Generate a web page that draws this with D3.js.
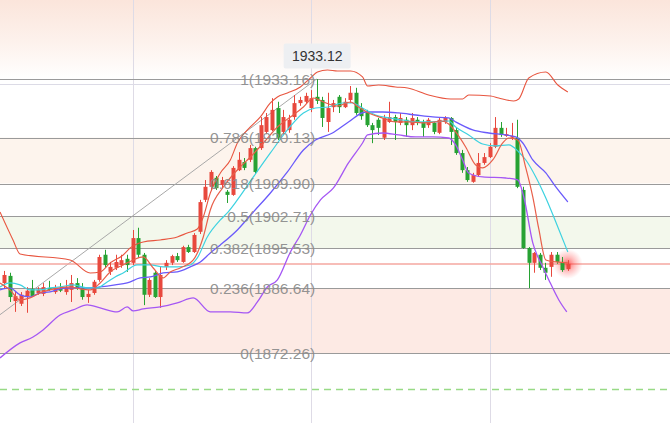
<!DOCTYPE html>
<html><head><meta charset="utf-8">
<script src="https://cdn.jsdelivr.net/npm/d3@7"></script>
<style>html,body{margin:0;padding:0;background:#fff;}svg{display:block;}</style>
</head><body>
<svg id="c" width="670" height="423"></svg>
<script>
// ---------- DATA ----------
const openP = [1887.8,1889.4,1883.8,1883.2,1884.9,1886.5,1885.6,1885.4,1886.7,1885.8,
1886.5,1885.8,1886.3,1887.8,1886.7,1884.7,1885.6,1888.5,1894.1,1890.3,
1891.2,1891.8,1893.2,1892.3,1897.8,1894.1,1885.2,1890.1,1884.7,1891.4,
1892.3,1893.8,1892.5,1895.8,1894.7,1899.2,1906.3,1909.2,1911.2,1909.6,
1908.1,1907.4,1912.9,1914.7,1915.2,1917.8,1917.8,1921.4,1921.8,1926.7,
1921.4,1921.8,1924.7,1927.8,1928.1,1926.7,1929.2,1928.5,1923.6,1926.9,
1929.2,1926.9,1928.5,1930.1,1926.7,1925.8,1922.9,1924.1,1920.1,1923.6,
1924.7,1923.4,1924.1,1922.9,1924.1,1923.6,1922.9,1923.4,1921.2,1923.6,
1924.5,1921.8,1916.7,1912.9,1910.3,1911.8,1914.5,1915.8,1918.1,1922.3,
1920.5,1920.1,1920.1,1908.5,1895.6,1892.3,1894.1,1891.2,1891.4,1894.1,
1892.5,1890.9];
const closeP = [1889.6,1884.7,1884.9,1885.2,1886.1,1884.9,1886.3,1886.9,1886.3,1886.7,
1886.1,1886.9,1887.8,1886.7,1884.7,1885.4,1888.1,1893.6,1891.8,1891.4,
1892.5,1892.9,1891.8,1897.8,1894.1,1885.2,1888.5,1884.7,1889.6,1892.3,
1893.8,1892.9,1895.8,1894.7,1898.5,1905.8,1909.2,1912.5,1908.9,1910.7,
1907.4,1913.4,1915.2,1913.4,1917.8,1912.5,1922.9,1924.7,1926.3,1920.1,
1924.7,1924.1,1927.8,1928.5,1929.4,1928.9,1928.3,1924.5,1926.7,1927.8,
1926.9,1928.1,1930.1,1925.6,1924.9,1922.9,1921.8,1922.3,1924.5,1924.7,
1923.6,1924.5,1922.9,1924.5,1923.4,1922.3,1924.1,1921.4,1924.1,1924.5,
1921.4,1916.7,1912.9,1910.7,1911.8,1914.5,1915.8,1918.1,1922.3,1920.7,
1920.9,1920.5,1909.2,1895.6,1892.3,1894.5,1891.2,1890.1,1894.1,1892.5,
1890.7,1892.05];
const highP = [1890.5,1890.1,1885.8,1885.8,1886.9,1888.5,1886.9,1887.8,1888.3,1887.4,
1887.8,1888.5,1889.6,1888.9,1887.8,1886.3,1888.5,1894.1,1895.2,1892.5,
1894.1,1894.1,1894.1,1899.6,1900.1,1894.5,1888.9,1890.5,1891.4,1892.9,
1894.1,1894.5,1896.1,1896.3,1898.9,1906.3,1910.7,1912.9,1911.6,1911.4,
1908.5,1913.8,1916.9,1915.6,1918.5,1918.1,1924.7,1925.6,1928.9,1928.1,
1926.3,1925.2,1929.6,1929.2,1930.1,1930.7,1933.16,1929.2,1930.1,1928.5,
1929.6,1928.9,1931.6,1931.2,1927.8,1926.3,1923.4,1924.5,1925.2,1928.1,
1925.2,1925.6,1924.7,1925.6,1924.7,1924.1,1924.5,1923.6,1924.5,1924.9,
1924.7,1922.3,1917.4,1913.6,1912.3,1916.7,1916.7,1918.9,1924.7,1923.6,
1922.3,1923.4,1924.1,1909.2,1895.8,1894.7,1894.5,1892.3,1894.7,1894.7,
1893.6,1892.9];
const lowP = [1886.7,1883.6,1881.4,1882.7,1881.2,1884.7,1885.2,1884.9,1886.1,1885.4,
1885.8,1885.2,1883.6,1886.3,1884.1,1883.4,1885.2,1888.1,1891.2,1889.6,
1890.7,1891.2,1890.3,1891.8,1893.4,1882.9,1884.7,1884.5,1882.3,1890.7,
1891.8,1892.5,1892.3,1894.5,1894.5,1898.7,1905.8,1908.5,1908.5,1908.9,
1905.6,1907.2,1912.7,1912.9,1914.7,1912.1,1917.4,1920.9,1921.6,1919.6,
1920.7,1921.2,1924.1,1927.2,1927.6,1925.8,1927.6,1922.5,1921.4,1925.8,
1925.6,1926.7,1927.8,1925.2,1924.1,1922.5,1918.9,1920.7,1919.6,1923.4,
1919.6,1922.9,1920.3,1921.8,1922.9,1920.3,1922.3,1920.9,1920.9,1923.2,
1918.5,1916.3,1912.3,1910.3,1910.1,1911.4,1914.1,1915.6,1917.8,1920.3,
1920.3,1919.6,1908.9,1895.4,1886.7,1890.1,1890.7,1888.5,1889.2,1892.1,
1890.3,1890.5];

// indicator lines: [candle index, price]
const bollUpper = [[-0.77,1903.61],[1.56,1897.39],[2.82,1894.28],[11.8,1892.94],[15.39,1890.05],[17.18,1890.28],
[18.98,1892.28],[21.31,1894.05],[22.57,1895.61],[24.9,1896.94],[27.95,1897.39],[31.01,1898.05],[32.8,1898.94],
[34.6,1899.83],[35.67,1902.5],[36.93,1907.83],[38.73,1912.28],[40.52,1915.16],[41.78,1918.94],[44.11,1922.5],
[45.91,1924.72],[47.7,1927.83],[48.96,1929.16],[50.75,1930.05],[53.08,1931.39],[54.88,1933.39],[56.14,1934.72],
[57.94,1935.16],[59.73,1934.94],[62.06,1934.94],[64.22,1933.61],[65.12,1931.61],[67.09,1931.83],[70.14,1931.39],
[72.3,1931.16],[76.07,1929.61],[80.02,1928.72],[82.17,1928.72],[83.25,1929.61],[87.2,1929.39],[88.63,1928.94],
[91.33,1928.28],[92.23,1928.72],[94.02,1933.39],[97.08,1934.72],[99.23,1931.83],[101.02,1930.28]];
const ma5 = [[-0.77,1887.83],[1.02,1886.28],[2.82,1884.05],[4.61,1884.5],[6.41,1885.61],[8.2,1886.28],[10,1886.72],
[11.8,1886.94],[13.59,1886.5],[15.39,1886.28],[17.18,1887.83],[18.98,1890.28],[21.31,1891.83],[23.11,1892.94],
[24.9,1893.61],[26.7,1891.16],[28.49,1888.94],[29.75,1890.28],[31.54,1891.16],[33.88,1892.94],[35.67,1898.05],
[36.93,1904.05],[39.26,1909.16],[41.78,1912.94],[44.11,1915.83],[46.45,1918.94],[48.96,1922.5],[51.29,1924.72],
[53.62,1926.94],[55.42,1928.94],[57.22,1928.05],[59.73,1927.16],[62.06,1928.05],[63.5,1926.94],[65.3,1925.61],
[67.81,1924.5],[70.14,1923.61],[72.48,1923.61],[74.99,1923.39],[77.33,1923.61],[78.4,1923.83],[79.66,1923.16],
[80.92,1921.39],[82.71,1918.05],[84.51,1914.05],[85.76,1913.39],[87.56,1915.16],[89.35,1918.94],[90.43,1920.05],
[92.05,1919.61],[93.49,1913.39],[94.74,1906.94],[95.82,1899.83],[97.08,1892.94],[98.87,1892.5],[101.02,1892.28]];
const ma10 = [[-0.77,1886.94],[1.02,1887.83],[2.82,1887.39],[4.61,1886.28],[6.41,1886.28],[8.2,1886.72],[10,1886.94],
[12.33,1887.39],[14.85,1886.72],[16.64,1886.72],[18.44,1888.05],[19.87,1889.16],[21.31,1890.05],[23.82,1891.83],
[26.16,1891.83],[28.49,1891.39],[31.01,1891.39],[33.34,1891.83],[34.6,1893.39],[36.39,1898.05],[38.73,1901.83],
[39.98,1903.39],[41.78,1906.28],[44.65,1911.39],[47.7,1916.72],[50.75,1921.83],[53.62,1925.61],[55.78,1926.72],
[58.12,1926.94],[60.63,1927.83],[62.42,1927.83],[64.22,1926.72],[66.55,1925.16],[68.89,1924.5],[71.4,1924.05],
[73.73,1923.61],[76.79,1923.61],[79.66,1923.83],[80.92,1922.5],[83.25,1920.72],[85.76,1918.72],[88.1,1918.28],
[90.43,1918.5],[92.23,1916.94],[93.49,1915.16],[95.28,1911.39],[97.08,1906.72],[98.87,1901.39],[101.02,1894.72]];
const bollMid = [[-0.77,1886.28],[1.02,1886.72],[2.82,1885.16],[4.61,1884.72],[6.41,1885.61],[8.2,1885.83],[10,1886.5],
[11.8,1886.72],[13.59,1886.72],[15.39,1886.72],[17.18,1886.94],[19.87,1887.39],[22.03,1887.83],[24.36,1888.94],
[26.16,1889.16],[28.49,1890.05],[31.01,1890.28],[33.34,1891.39],[35.14,1892.5],[36.93,1894.5],[38.73,1896.28],
[41.78,1899.61],[44.65,1903.61],[47.7,1907.83],[50.75,1912.5],[53.62,1917.39],[55.78,1919.61],[58.83,1921.16],
[61.7,1923.61],[64.76,1925.83],[67.81,1925.83],[70.68,1925.61],[73.73,1925.16],[76.79,1924.72],[79.66,1924.5],
[80.92,1923.61],[83.97,1921.83],[86.84,1921.16],[89.89,1920.72],[91.69,1920.28],[92.95,1918.94],[94.74,1915.16],
[97.08,1912.28],[98.87,1909.16],[101.02,1905.83]];
const bollLower = [[-0.77,1871.16],[2.82,1874.5],[5.15,1875.83],[6.95,1877.39],[10,1880.72],[12.33,1881.83],
[14.85,1882.94],[17.18,1882.28],[20.23,1881.39],[22.03,1882.5],[23.11,1881.61],[24.9,1882.05],[27.95,1882.5],
[31.01,1883.39],[33.88,1884.5],[36.93,1881.39],[40.52,1881.39],[43.57,1881.16],[45.37,1883.61],[47.16,1886.94],
[48.96,1888.5],[51.29,1894.72],[53.08,1898.5],[54.88,1902.94],[56.68,1906.28],[59.01,1908.94],[61.7,1914.5],
[64.22,1918.94],[65.12,1920.72],[67.81,1921.16],[70.68,1920.72],[73.73,1920.28],[76.79,1920.28],[79.66,1920.05],
[80.92,1918.5],[82.17,1915.16],[83.25,1912.28],[85.76,1911.39],[89.89,1911.16],[92.05,1910.72],[93.13,1906.94],
[94.74,1896.72],[96.54,1891.39],[97.62,1888.5],[99.41,1884.05],[100.84,1881.39]];

// Fibonacci retracement
const fibRatios = [1, 0.786, 0.618, 0.5, 0.382, 0.236, 0];
const fibPrices = [1933.16, 1920.13, 1909.90, 1902.71, 1895.53, 1886.64, 1872.26];
const fibLabels = ["1(1933.16)","0.786(1920.13)","0.618(1909.90)","0.5(1902.71)","0.382(1895.53)","0.236(1886.64)","0(1872.26)"];
const fibBandFills = ["#ffffff","#fdf4ed","#ffffff","#f3f8ec","#ffffff","#fdeae4"]; // between consecutive levels
const trendStart = [-10, 1872.26];
const trendEnd = [56, 1933.16];
const highLabel = "1933.12";
const highLabelIdx = 56;
const gridIdx = [23, 55, 87];
const gridTopPrice = 1932.05;
const dashedPrice = 1864.27;

// ---------- CHART ----------
const W = 670, H = 423;
const svg = d3.select("#c");
const x = d3.scaleLinear().domain([0, 101]).range([4.3, 567.7]);
const y = d3.scaleLinear().domain([1872.26, 1933.16]).range([353, 79]);
const defs = svg.append("defs");

const tg = defs.append("linearGradient").attr("id","topg").attr("x1",0).attr("y1",0).attr("x2",0).attr("y2",1);
tg.append("stop").attr("offset","0%").attr("stop-color","#fbe5db");
tg.append("stop").attr("offset","55%").attr("stop-color","#fdf2ed");
tg.append("stop").attr("offset","100%").attr("stop-color","#ffffff");
svg.append("rect").attr("x",0).attr("y",0).attr("width",W).attr("height",y(fibPrices[0])).attr("fill","url(#topg)");

// fib bands
const bandData = d3.range(fibPrices.length - 1).map(i => ({top: fibPrices[i], bot: fibPrices[i+1], fill: fibBandFills[i]}));
svg.append("g").selectAll("rect").data(bandData).join("rect")
  .attr("x",0).attr("width",W)
  .attr("y",d=>y(d.top)).attr("height",d=>y(d.bot)-y(d.top))
  .attr("fill",d=>d.fill);

// grid
svg.append("g").selectAll("line").data(gridIdx).join("line")
  .attr("x1",d=>Math.round(x(d))+0.5).attr("x2",d=>Math.round(x(d))+0.5)
  .attr("y1",0).attr("y2",H).attr("stroke","#dedbe6").attr("stroke-width",1);
svg.append("line").attr("x1",0).attr("x2",W)
  .attr("y1",Math.round(y(gridTopPrice))+0.5).attr("y2",Math.round(y(gridTopPrice))+0.5)
  .attr("stroke","#dcdbe6").attr("stroke-width",1);
svg.append("line").attr("x1",0).attr("x2",W)
  .attr("y1",Math.round(y(dashedPrice))+0.5).attr("y2",Math.round(y(dashedPrice))+0.5)
  .attr("stroke","#98da86").attr("stroke-width",1.3).attr("stroke-dasharray","7,5");

// fib lines
svg.append("g").selectAll("line").data(fibPrices).join("line")
  .attr("x1",0).attr("x2",W)
  .attr("y1",d=>Math.round(y(d))+0.5).attr("y2",d=>Math.round(y(d))+0.5)
  .attr("stroke","#9a9a9a").attr("stroke-width",1);

// trend line
svg.append("line")
  .attr("x1",x(trendStart[0])).attr("y1",y(trendStart[1]))
  .attr("x2",x(trendEnd[0])).attr("y2",y(trendEnd[1]))
  .attr("stroke","#a8a8a8").attr("stroke-width",1);

// current price line + glow
const lastI = closeP.length - 1;
const lastC = closeP[lastI];
svg.append("line").attr("x1",0).attr("x2",W).attr("y1",y(lastC)).attr("y2",y(lastC))
  .attr("stroke","#f4a7a0").attr("stroke-width",1.6);
const rg = defs.append("radialGradient").attr("id","glow");
rg.append("stop").attr("offset","0%").attr("stop-color","#ff3030").attr("stop-opacity",0.75);
rg.append("stop").attr("offset","45%").attr("stop-color","#ff4040").attr("stop-opacity",0.35);
rg.append("stop").attr("offset","100%").attr("stop-color","#ff6060").attr("stop-opacity",0);
svg.append("circle").attr("cx",x(lastI)).attr("cy",y(lastC)).attr("r",15).attr("fill","url(#glow)");

// candles
const UP = "#e8483d", DN = "#27a233";
const candles = d3.range(openP.length).map(i => ({i, o: openP[i], c: closeP[i], h: highP[i], l: lowP[i]}));
const cg = svg.append("g");
cg.selectAll("line").data(candles).join("line")
  .attr("x1",d=>Math.round(x(d.i))+0.5).attr("x2",d=>Math.round(x(d.i))+0.5)
  .attr("y1",d=>y(d.h)).attr("y2",d=>y(d.l))
  .attr("stroke",d=>d.c>=d.o?UP:DN).attr("stroke-width",1);
cg.selectAll("rect").data(candles).join("rect")
  .attr("x",d=>Math.round(x(d.i))-1.5).attr("width",4)
  .attr("y",d=>y(Math.max(d.o,d.c)))
  .attr("height",d=>Math.max(1, Math.abs(y(d.o)-y(d.c))))
  .attr("fill",d=>d.c>=d.o?UP:DN);

// indicator lines
const lineGen = d3.line().x(d=>x(d[0])).y(d=>y(d[1])).curve(d3.curveMonotoneX);
const series = [
  {d: bollLower, c: "#a557f4", w: 1.3},
  {d: bollMid, c: "#6a5afb", w: 1.3},
  {d: ma10, c: "#3dd2e0", w: 1.2},
  {d: ma5, c: "#e85f4a", w: 1.2},
  {d: bollUpper, c: "#e8553f", w: 1.1}
];
svg.append("g").selectAll("path").data(series).join("path")
  .attr("d",s=>lineGen(s.d)).attr("fill","none")
  .attr("stroke",s=>s.c).attr("stroke-width",s=>s.w);

// fib labels
const lx = x(trendEnd[0]) - 1.5;
svg.append("g").selectAll("text").data(fibLabels).join("text")
  .attr("x",lx).attr("y",(d,i)=>y(fibPrices[i]))
  .attr("dy","0.36em").attr("text-anchor","end")
  .attr("font-family","'Liberation Sans', Arial, sans-serif").attr("font-size",15.5)
  .attr("fill","#8a8a8a").attr("fill-opacity",0.92)
  .text(d=>d);

// high label box
const hx = x(highLabelIdx), hy = y(highP[highLabelIdx]) - 23;
svg.append("rect").attr("x",hx-33).attr("y",hy-12.5).attr("width",67).attr("height",25)
  .attr("rx",2).attr("fill","#edeff2");
svg.append("text").attr("x",hx+0.5).attr("y",hy).attr("dy","0.36em").attr("text-anchor","middle")
  .attr("font-family","'Liberation Sans', Arial, sans-serif").attr("font-size",14)
  .attr("fill","#333").text(highLabel);
</script>
</body></html>
